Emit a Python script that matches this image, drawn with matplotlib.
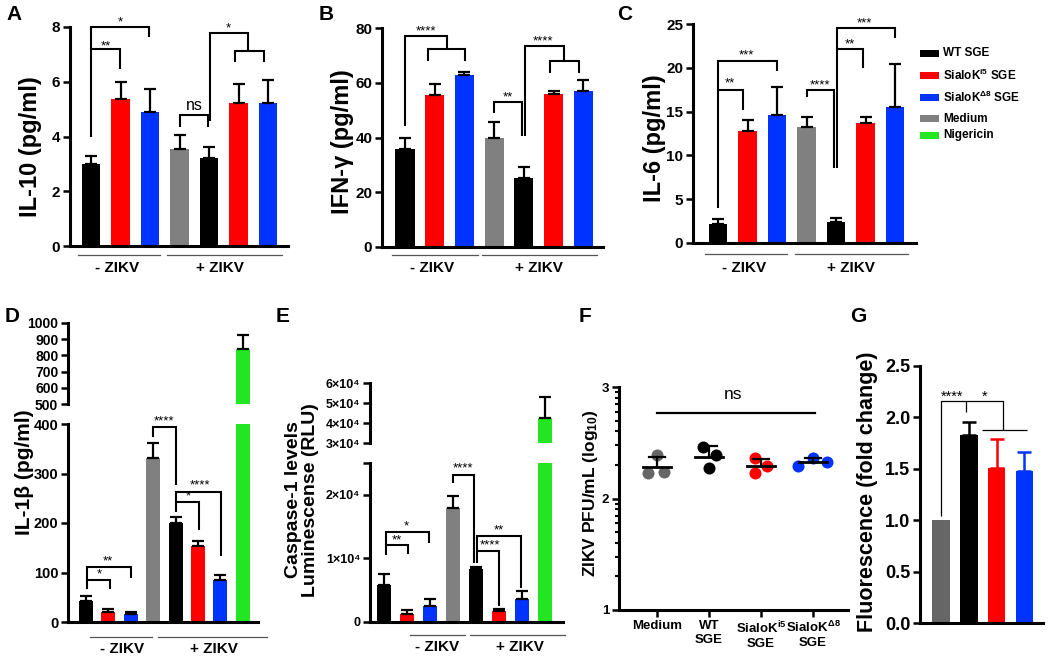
import matplotlib
matplotlib.use('Agg')
import matplotlib.pyplot as plt
import numpy as np
from matplotlib import font_manager as fm
from matplotlib.lines import Line2D
from matplotlib.patches import Rectangle


def has_font(name):
    try:
        fm.findfont(fm.FontProperties(family=name), fallback_to_default=False)
        return True
    except Exception:
        return False


NARROW = 'Liberation Sans Narrow' if has_font('Liberation Sans Narrow') else 'Liberation Sans'
plt.rcParams['font.family'] = ['Liberation Sans', 'DejaVu Sans']
plt.rcParams['font.weight'] = 'bold'
plt.rcParams['mathtext.default'] = 'regular'

# ---------------- data ----------------
zikv_groups = ['- ZIKV', '+ ZIKV']
legend_labels = ['WT SGE', 'SialoK$^{i5}$ SGE', 'SialoK$^{\\Delta8}$ SGE', 'Medium', 'Nigericin']

il10_mean = [3.0, 5.38, 4.9, 3.55, 3.2, 5.22, 5.24]
il10_err = [0.27, 0.62, 0.82, 0.51, 0.43, 0.68, 0.83]

ifng_mean = [35.7, 55.6, 62.9, 39.9, 25.3, 55.8, 57.0]
ifng_err = [4.0, 4.0, 1.2, 5.9, 4.0, 1.2, 4.1]

il6_mean = [2.17, 12.73, 14.63, 13.22, 2.39, 13.68, 15.54]
il6_err = [0.6, 1.33, 3.15, 1.14, 0.5, 0.68, 4.86]

il1b_mean = [41.7, 20.2, 16.1, 330.8, 199.7, 152.6, 85.4, 837.0]
il1b_err = [11.3, 6.0, 3.4, 30.2, 13.3, 11.4, 10.1, 92.0]

casp_mean = [5890, 1210, 2530, 17900, 8370, 1790, 3680, 42690]
casp_err = [1640, 630, 1100, 1840, 310, 260, 1160, 10370]

pfu_categories = ['Medium', 'WT\nSGE', 'SialoK$^{i5}$\nSGE', 'SialoK$^{\\Delta8}$\nSGE']
pfu_medium = [2.23, 2.39, 2.24]
pfu_wt = [2.46, 2.39, 2.27]
pfu_i5 = [2.36, 2.29, 2.23]
pfu_d8 = [2.29, 2.36, 2.33]

fold_mean = [1.0, 1.83, 1.51, 1.48]
fold_err = [0.0, 0.13, 0.28, 0.18]

# ---------------- style ----------------
BLACK = '#000000'
RED = '#ff0000'
BLUE = '#0033ff'
GRAY = '#808080'
GREEN = '#22e622'
DGRAY = '#666666'

W, H = 1050, 661
fig = plt.figure(figsize=(W / 100, H / 100), dpi=100)


def add_ax(x0, yt, x1, yb):
    return fig.add_axes([x0 / W, 1 - yb / H, (x1 - x0) / W, (yb - yt) / H])


def fig_line(x0, x1, y, **kw):
    fig.add_artist(Line2D([x0 / W, x1 / W], [1 - y / H, 1 - y / H],
                          transform=fig.transFigure, **kw))


def fig_text(x, y, s, **kw):
    fig.text(x / W, 1 - y / H, s, **kw)


def style_ax(ax, bottom=True, labelsize=11, family=None):
    for s in ['top', 'right']:
        ax.spines[s].set_visible(False)
    ax.spines['left'].set_linewidth(2.2)
    ax.spines['bottom'].set_linewidth(2.2)
    if not bottom:
        ax.spines['bottom'].set_visible(False)
    ax.tick_params(axis='y', direction='out', length=5, width=1.8,
                   labelsize=labelsize, pad=2)
    ax.set_xticks([])
    ax.patch.set_alpha(0)
    if family:
        for lb in ax.get_yticklabels():
            lb.set_family(family)


def bars(ax, means, errs, colors, width, ecolors=None, elw=1.6, cap=4.5):
    x = np.arange(len(means))
    ax.bar(x, means, width=width, color=colors, linewidth=0, zorder=2)
    if ecolors is None:
        ecolors = ['k'] * len(means)
    for xi, m, e, ec in zip(x, means, errs, ecolors):
        if e > 0:
            ax.errorbar(xi, m, yerr=[[0], [e]], fmt='none', ecolor=ec,
                        elinewidth=elw, capsize=cap, capthick=elw, zorder=3)


def bracket(ax, pts, lw=1.5):
    xs = [p[0] for p in pts]
    ys = [p[1] for p in pts]
    ax.plot(xs, ys, color='k', lw=lw, clip_on=False, zorder=4,
            solid_joinstyle='miter', solid_capstyle='butt')


def star(ax, x, y, s, size=9.5):
    ax.text(x, y, s, ha='center', va='center', fontsize=size,
            fontweight='normal', clip_on=False)


def group_labels(y_line, y_text, segs, centers, size=11):
    for (a, b) in segs:
        fig_line(a, b, y_line, color='#555555', lw=0.9)
    for c, lab in zip(centers, zikv_groups):
        fig_text(c, y_text, lab, ha='center', va='center', fontsize=size,
                 family=[NARROW, 'DejaVu Sans'])


cols7 = [BLACK, RED, BLUE, GRAY, BLACK, RED, BLUE]
cols8 = cols7 + [GREEN]

# ---------------- Panel A ----------------
axA = add_ax(70, 27, 288, 246)
bars(axA, il10_mean, il10_err, cols7, 0.64)
axA.set_ylim(0, 8)
axA.set_xlim((70 - 91) / 29.5, (288 - 91) / 29.5)
axA.set_yticks([0, 2, 4, 6, 8])
style_ax(axA)
bracket(axA, [(0, 4.0), (0, 7.2), (0.98, 7.2), (0.98, 6.47)])
bracket(axA, [(0, 7.2), (0, 8.0), (1.97, 8.0), (1.97, 7.63)])
bracket(axA, [(3.0, 4.35), (3.0, 4.78), (3.97, 4.78), (3.97, 4.35)])
bracket(axA, [(4.03, 4.55), (4.03, 7.78), (5.32, 7.78), (5.32, 7.13)])
bracket(axA, [(4.88, 6.73), (4.88, 7.13), (5.86, 7.13), (5.86, 6.73)])
star(axA, 0.5, 7.3, '**')
star(axA, 1.0, 8.15, '*')
star(axA, 3.5, 5.15, 'ns', size=11.5)
star(axA, 4.64, 7.93, '*')
group_labels(255, 268, [(78, 160), (167, 282)], [117, 220])
fig_text(30, 147, 'IL-10 (pg/ml)', rotation=90, ha='center', va='center', fontsize=17)

# ---------------- Panel B ----------------
axB = add_ax(382, 28, 603, 247)
bars(axB, ifng_mean, ifng_err, cols7, 0.64)
axB.set_ylim(0, 80)
axB.set_xlim((382 - 405) / 29.7, (603 - 405) / 29.7)
axB.set_yticks([0, 20, 40, 60, 80])
style_ax(axB)
bracket(axB, [(0, 44.2), (0, 77.2), (1.41, 77.2), (1.41, 72.3)])
bracket(axB, [(0.77, 68.0), (0.77, 72.3), (2.02, 72.3), (2.02, 68.0)])
bracket(axB, [(3.0, 49.1), (3.0, 53.1), (3.94, 53.1), (3.94, 40.5)])
bracket(axB, [(4.04, 40.5), (4.04, 73.5), (5.35, 73.5), (5.35, 67.8)])
bracket(axB, [(4.88, 63.5), (4.88, 67.8), (5.86, 67.8), (5.86, 63.5)])
star(axB, 0.71, 78.6, '****')
star(axB, 3.47, 54.5, '**')
star(axB, 4.65, 75.0, '****')
group_labels(255, 268, [(392, 478), (482, 597)], [432, 539])
fig_text(342, 142, 'IFN-γ (pg/ml)', rotation=90, ha='center', va='center', fontsize=17)

# ---------------- Panel C ----------------
axC = add_ax(693, 24, 916, 243)
bars(axC, il6_mean, il6_err, cols7, 0.64)
axC.set_ylim(0, 25)
axC.set_xlim((693 - 718) / 29.5, (916 - 718) / 29.5)
axC.set_yticks([0, 5, 10, 15, 20, 25])
style_ax(axC)
bracket(axC, [(0, 4.0), (0, 17.5), (0.85, 17.5), (0.85, 15.2)])
bracket(axC, [(0, 17.5), (0, 20.8), (2.0, 20.8), (2.0, 19.6)])
bracket(axC, [(3.0, 16.7), (3.0, 17.5), (3.93, 17.5), (3.93, 8.55)])
bracket(axC, [(4.03, 8.55), (4.03, 22.1), (4.92, 22.1), (4.92, 19.95)])
bracket(axC, [(4.03, 22.1), (4.03, 24.5), (6.0, 24.5), (6.0, 23.4)])
star(axC, 0.4, 18.2, '**')
star(axC, 0.95, 21.4, '***')
star(axC, 3.47, 18.0, '****')
star(axC, 4.47, 22.7, '**')
star(axC, 4.95, 25.1, '***')
group_labels(254, 268, [(705, 787), (795, 908)], [744, 851])
fig_text(655, 138, 'IL-6 (pg/ml)', rotation=90, ha='center', va='center', fontsize=17)

# legend
leg_cols = [BLACK, RED, BLUE, GRAY, GREEN]
leg_y = [53, 75.5, 97, 118.5, 135]
for c, yy, lab in zip(leg_cols, leg_y, legend_labels):
    fig.add_artist(Rectangle((920 / W, 1 - (yy + 3.5) / H), 19 / W, 7 / H,
                             transform=fig.transFigure, color=c, lw=0))
    fig_text(943, yy, lab, ha='left', va='center', fontsize=8.5,
             family=[NARROW, 'DejaVu Sans'])

# ---------------- Panel D ----------------
axDu = add_ax(68, 323, 258, 404)
axDl = add_ax(68, 424, 258, 622)
for ax in (axDu, axDl):
    bars(ax, il1b_mean, il1b_err, cols8, 0.63, cap=4)
    ax.set_xlim((68 - 86) / 22.4, (258 - 86) / 22.4)
axDu.set_ylim(500, 1000)
axDl.set_ylim(0, 400)
axDu.set_yticks([500, 600, 700, 800, 900, 1000])
axDl.set_yticks([0, 100, 200, 300, 400])
style_ax(axDu, bottom=False, labelsize=10, family=[NARROW, 'DejaVu Sans'])
style_ax(axDl, labelsize=10.5, family=[NARROW, 'DejaVu Sans'])
bracket(axDl, [(0.05, 67), (0.05, 84), (1.07, 84), (1.07, 67)])
bracket(axDl, [(0.05, 84), (0.05, 112), (2.0, 112), (2.0, 88.7)])
bracket(axDl, [(3.0, 373), (3.0, 394.6), (4.02, 394.6), (4.02, 277)])
bracket(axDl, [(4.02, 223), (4.02, 263.5), (6.03, 263.5), (6.03, 132.4)])
bracket(axDl, [(4.02, 241.9), (5.04, 241.9), (5.04, 186)])
star(axDl, 0.58, 97, '*')
star(axDl, 0.98, 123, '**')
star(axDl, 3.5, 405, '****')
star(axDl, 4.55, 253, '*')
star(axDl, 5.09, 275, '****')
group_labels(637, 649, [(90, 152), (158, 267)], [122, 214], size=11)
fig_text(25, 472, 'IL-1β (pg/ml)', rotation=90, ha='center', va='center', fontsize=15)

# ---------------- Panel E ----------------
axEu = add_ax(370, 383, 563, 443)
axEl = add_ax(370, 463, 563, 622)
for ax in (axEu, axEl):
    bars(ax, casp_mean, casp_err, cols8, 0.63, cap=4)
    ax.set_xlim((370 - 384) / 23, (563 - 384) / 23)
axEu.set_ylim(30000, 60000)
axEl.set_ylim(0, 25000)
axEu.set_yticks([30000, 40000, 50000, 60000])
axEu.set_yticklabels(['3×10⁴', '4×10⁴', '5×10⁴', '6×10⁴'])
axEl.set_yticks([0, 10000, 20000, 25000])
axEl.set_yticklabels(['0', '1×10⁴', '2×10⁴', ''])
style_ax(axEu, bottom=False, labelsize=9, family=[NARROW, 'DejaVu Sans'])
style_ax(axEl, labelsize=9, family=[NARROW, 'DejaVu Sans'])
bracket(axEl, [(0.09, 10530), (0.09, 12100), (1.04, 12100), (1.04, 10680)])
bracket(axEl, [(0.09, 12100), (0.09, 14200), (1.96, 14200), (1.96, 12470)])
bracket(axEl, [(3.0, 21840), (3.0, 23050), (3.91, 23050), (3.91, 9210)])
bracket(axEl, [(4.04, 9210), (4.04, 13580), (5.96, 13580), (5.96, 5370)])
bracket(axEl, [(4.04, 11200), (5.0, 11200), (5.0, 2500)])
star(axEl, 0.57, 12900, '**')
star(axEl, 0.96, 15000, '*')
star(axEl, 3.45, 24100, '****')
star(axEl, 5.0, 14400, '**')
star(axEl, 4.6, 12000, '****')
group_labels(635, 647, [(410, 465), (470, 565)], [437, 520], size=11)
fig_text(302, 500, 'Caspase-1 levels\nLuminescense (RLU)', rotation=90, ha='center',
         va='center', fontsize=14, multialignment='center', linespacing=1.0)

# ---------------- Panel F ----------------
axF = add_ax(619, 387, 848, 610)
pfu_sets = [pfu_medium, pfu_wt, pfu_i5, pfu_d8]
pfu_cols = [DGRAY, BLACK, RED, BLUE]
jitter = [[-0.17, 0.0, 0.13], [-0.12, 0.13, 0.0], [-0.12, 0.12, -0.12], [-0.29, 0.0, 0.27]]
for i, (vals, c, jt) in enumerate(zip(pfu_sets, pfu_cols, jitter)):
    axF.scatter(np.array(jt) + i, vals, s=75, color=c, linewidths=0, zorder=3)
    m = np.mean(vals)
    sd = np.std(vals, ddof=1)
    axF.plot([i - 0.26, i + 0.26], [m, m], color='k', lw=2, zorder=4)
    axF.plot([i, i], [m, m + sd], color='k', lw=1.6, zorder=4)
    axF.plot([i - 0.16, i + 0.16], [m + sd, m + sd], color='k', lw=1.6, zorder=4)
axF.set_ylim(1, 3)
axF.set_xlim((619 - 657) / 52, (848 - 657) / 52)
for s in ['top', 'right']:
    axF.spines[s].set_visible(False)
axF.spines['left'].set_linewidth(2.2)
axF.spines['bottom'].set_linewidth(2.2)
axF.set_yticks([1, 2, 3])
axF.set_yticks([n + np.log10(k) for n in (1, 2) for k in range(2, 10)], minor=True)
axF.set_xticks(range(4))
axF.set_xticklabels(pfu_categories)
axF.tick_params(axis='both', which='major', direction='out', length=5, width=1.8,
                labelsize=9.5, pad=2)
axF.tick_params(axis='y', which='minor', direction='out', length=3, width=1.5)
for lb in axF.get_xticklabels() + axF.get_yticklabels():
    lb.set_family([NARROW, 'DejaVu Sans'])
axF.plot([0, 3.04], [2.77, 2.77], color='k', lw=1.6, clip_on=False)
axF.text(1.46, 2.93, 'ns', ha='center', va='center', fontsize=12.5, fontweight='normal')
fig_text(591, 493, 'ZIKV PFU/mL (log$_{10}$)', rotation=90, ha='center', va='center',
         fontsize=12.5)

# ---------------- Panel G ----------------
axG = add_ax(920, 366, 1043, 623)
bars(axG, fold_mean, fold_err, [DGRAY, BLACK, RED, BLUE], 0.63,
     ecolors=['k', 'k', RED, BLUE], elw=1.8, cap=5)
axG.set_ylim(0, 2.5)
axG.set_xlim((920 - 941) / 27.8, (1043 - 941) / 27.8)
axG.set_yticks([0, 0.5, 1.0, 1.5, 2.0, 2.5])
axG.set_yticklabels(['0.0', '0.5', '1.0', '1.5', '2.0', '2.5'])
style_ax(axG, labelsize=13)
bracket(axG, [(0, 1.04), (0, 2.16), (0.9, 2.16), (0.9, 2.05)], lw=0.9)
bracket(axG, [(0.9, 2.16), (2.23, 2.16), (2.23, 1.88)], lw=0.9)
bracket(axG, [(1.47, 1.88), (3.09, 1.88)], lw=0.9)
star(axG, 0.4, 2.2, '****', size=10.5)
star(axG, 1.58, 2.2, '*', size=10.5)
fig_text(868, 492, 'Fluorescence (fold change)', rotation=90, ha='center', va='center',
         fontsize=15.5)

# ---------------- panel letters ----------------
for lab, (x, y) in zip('ABCDEFG', [(14, 15), (326, 15), (625, 15), (12, 317),
                                  (283, 317), (585, 317), (858, 317)]):
    fig_text(x, y, lab, ha='center', va='center', fontsize=15)

fig.savefig('out.png', dpi=100)
